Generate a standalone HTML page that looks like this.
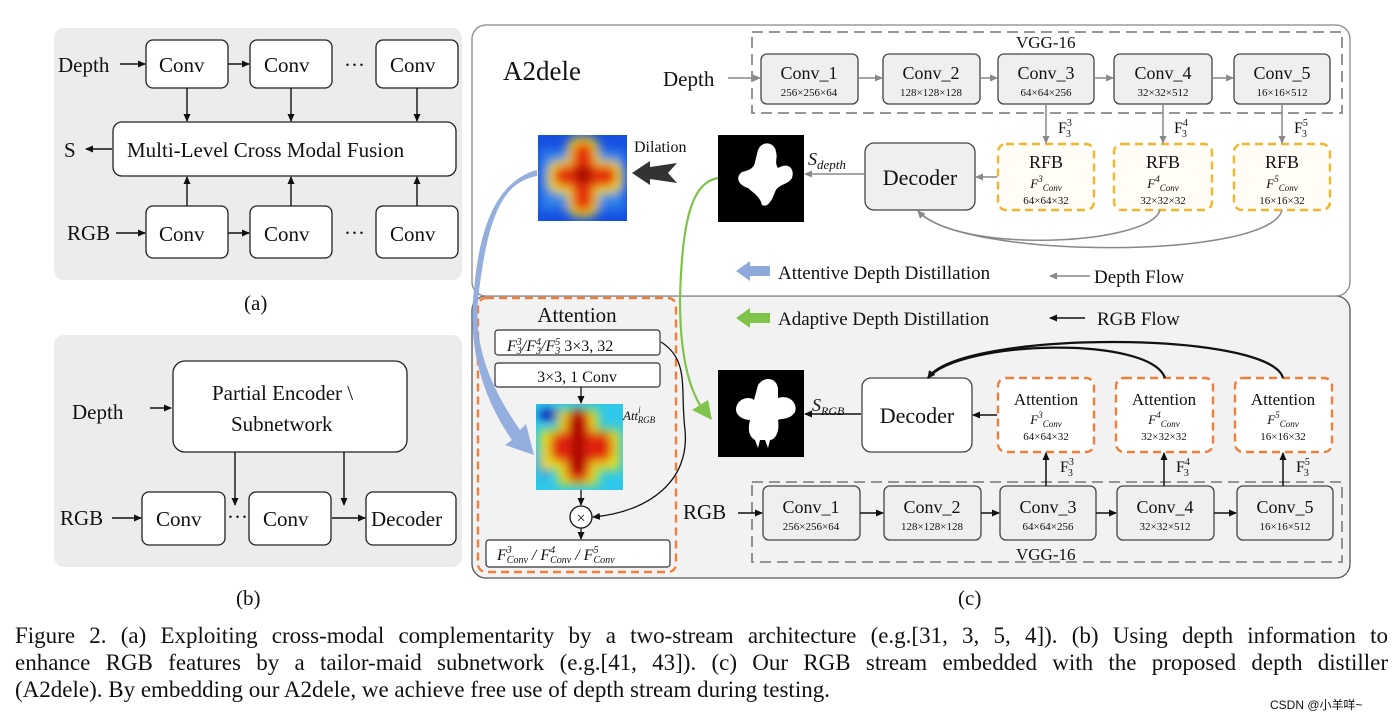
<!DOCTYPE html>
<html><head><meta charset="utf-8"><style>
body{margin:0;width:1400px;height:720px;background:#fff;overflow:hidden;font-family:"Liberation Serif",serif}
.cap{position:absolute;left:15px;width:1373px;font-size:23px;line-height:27px;color:#111;white-space:nowrap}
.j{text-align:justify;text-align-last:justify;white-space:normal}
svg text{font-family:"Liberation Serif",serif;fill:#111}
</style></head><body>
<svg width="1400" height="720" style="position:absolute;left:0;top:0">
<defs>
<marker id="ak" markerWidth="8" markerHeight="8" refX="7" refY="4" orient="auto" markerUnits="userSpaceOnUse"><path d="M0,0.5 L8,4 L0,7.5z" fill="#111"/></marker>
<marker id="ag" markerWidth="8" markerHeight="8" refX="7" refY="4" orient="auto" markerUnits="userSpaceOnUse"><path d="M0,0.5 L8,4 L0,7.5z" fill="#888"/></marker>
<filter id="bl"><feGaussianBlur stdDeviation="5"/></filter>
<clipPath id="c1"><rect x="538" y="135" width="89" height="86"/></clipPath>
<clipPath id="c2"><rect x="536" y="404" width="87" height="86"/></clipPath>
</defs>
<rect x="54" y="28" width="408" height="252" rx="10" fill="#ececec"/>
<g stroke="#222" stroke-width="1.3" fill="#fff">
<rect x="146" y="40" width="82" height="48" rx="7"/><rect x="250" y="40" width="82" height="48" rx="7"/><rect x="376" y="40" width="82" height="48" rx="7"/>
<rect x="113" y="122" width="343" height="54" rx="9"/>
<rect x="146" y="206" width="82" height="52" rx="7"/><rect x="250" y="206" width="82" height="52" rx="7"/><rect x="376" y="206" width="82" height="52" rx="7"/>
</g>
<g font-size="21">
<text x="58" y="72">Depth</text><text x="159" y="72">Conv</text><text x="264" y="72">Conv</text><text x="390" y="72">Conv</text>
<text x="344" y="72">···</text><text x="344" y="240">···</text>
<text x="127" y="157">Multi-Level Cross Modal Fusion</text><text x="64" y="157">S</text>
<text x="67" y="240">RGB</text><text x="159" y="241">Conv</text><text x="264" y="241">Conv</text><text x="390" y="241">Conv</text>
<text x="244" y="310">(a)</text>
</g>
<g stroke="#111" stroke-width="1.4" fill="none" marker-end="url(#ak)">
<line x1="120" y1="64" x2="145" y2="64"/><line x1="228" y1="64" x2="249" y2="64"/>
<line x1="187" y1="88" x2="187" y2="121"/><line x1="291" y1="88" x2="291" y2="121"/><line x1="417" y1="88" x2="417" y2="121"/>
<line x1="112" y1="149" x2="86" y2="149"/>
<line x1="187" y1="206" x2="187" y2="177"/><line x1="291" y1="206" x2="291" y2="177"/><line x1="417" y1="206" x2="417" y2="177"/>
<line x1="116" y1="233" x2="145" y2="233"/><line x1="228" y1="233" x2="249" y2="233"/>
</g>
<rect x="54" y="335" width="408" height="232" rx="10" fill="#ececec"/>
<g stroke="#222" stroke-width="1.3" fill="#fff">
<rect x="173" y="361" width="234" height="91" rx="12"/>
<rect x="142" y="492" width="83" height="53" rx="7"/><rect x="249" y="492" width="82" height="53" rx="7"/><rect x="366" y="492" width="90" height="53" rx="7"/>
</g>
<g font-size="21">
<text x="72" y="419">Depth</text><text x="212" y="400">Partial Encoder \</text><text x="231" y="431">Subnetwork</text>
<text x="60" y="525">RGB</text><text x="156" y="526">Conv</text><text x="263" y="526">Conv</text><text x="371" y="526">Decoder</text>
<text x="227" y="524">···</text><text x="236" y="605">(b)</text>
</g>
<g stroke="#111" stroke-width="1.4" fill="none" marker-end="url(#ak)">
<line x1="150" y1="408" x2="171" y2="408"/><line x1="112" y1="518" x2="141" y2="518"/>
<line x1="332" y1="518" x2="365" y2="518"/>
<line x1="235" y1="452" x2="235" y2="505"/><line x1="344" y1="452" x2="344" y2="505"/>
</g>
<rect x="472" y="296" width="878" height="282" rx="14" fill="#f2f2f2" stroke="#555" stroke-width="1.3"/>
<rect x="472" y="25" width="878" height="271" rx="14" fill="#fff" stroke="#888" stroke-width="1.3"/>
<rect x="752" y="32" width="590" height="81" fill="none" stroke="#888" stroke-width="1.8" stroke-dasharray="11,6"/>
<rect x="752" y="482" width="590" height="80" fill="none" stroke="#888" stroke-width="1.8" stroke-dasharray="11,6"/>
<text x="503" y="80" font-size="27">A2dele</text>
<text x="1016" y="48" font-size="17">VGG-16</text><text x="1016" y="560" font-size="17">VGG-16</text>
<g stroke="#444" stroke-width="1.3" fill="#efefef">
<rect x="761" y="54" width="97" height="50" rx="6"/><rect x="883" y="54" width="97" height="50" rx="6"/><rect x="998" y="54" width="96" height="50" rx="6"/><rect x="1114" y="54" width="98" height="50" rx="6"/><rect x="1234" y="54" width="96" height="50" rx="6"/>
<rect x="865" y="143" width="110" height="67" rx="9"/>
<rect x="763" y="486" width="97" height="54" rx="6"/><rect x="884" y="486" width="97" height="54" rx="6"/><rect x="1000" y="486" width="96" height="54" rx="6"/><rect x="1117" y="486" width="97" height="54" rx="6"/><rect x="1237" y="486" width="96" height="54" rx="6"/>
</g>
<rect x="862" y="378" width="110" height="74" rx="9" fill="#fff" stroke="#444" stroke-width="1.3"/>
<g fill="#fffdf5" stroke="#f3b52a" stroke-width="2.4" stroke-dasharray="8,5">
<rect x="998" y="144" width="96" height="66" rx="8"/><rect x="1114" y="144" width="98" height="66" rx="8"/><rect x="1234" y="144" width="96" height="66" rx="8"/>
</g>
<g fill="#fff" stroke="#ef7f3a" stroke-width="2.4" stroke-dasharray="8,5">
<rect x="998" y="378" width="96" height="74" rx="8"/><rect x="1116" y="378" width="97" height="74" rx="8"/><rect x="1235" y="378" width="97" height="74" rx="8"/>
<rect x="478" y="298" width="198" height="274" rx="8" fill="none"/>
</g>
<g font-size="18" text-anchor="middle">
<text x="809" y="79">Conv_1</text><text x="931" y="79">Conv_2</text><text x="1046" y="79">Conv_3</text><text x="1163" y="79">Conv_4</text><text x="1282" y="79">Conv_5</text>
<text x="811" y="513">Conv_1</text><text x="932" y="513">Conv_2</text><text x="1048" y="513">Conv_3</text><text x="1165" y="513">Conv_4</text><text x="1285" y="513">Conv_5</text>
<text x="1046" y="168">RFB</text><text x="1163" y="168">RFB</text><text x="1282" y="168">RFB</text>
<text x="1046" y="405" font-size="17">Attention</text><text x="1164" y="405" font-size="17">Attention</text><text x="1283" y="405" font-size="17">Attention</text>
</g>
<g font-size="11" text-anchor="middle">
<text x="809" y="96">256×256×64</text><text x="931" y="96">128×128×128</text><text x="1046" y="96">64×64×256</text><text x="1163" y="96">32×32×512</text><text x="1282" y="96">16×16×512</text>
<text x="811" y="530">256×256×64</text><text x="932" y="530">128×128×128</text><text x="1048" y="530">64×64×256</text><text x="1165" y="530">32×32×512</text><text x="1285" y="530">16×16×512</text>
<text x="1046" y="204">64×64×32</text><text x="1163" y="204">32×32×32</text><text x="1282" y="204">16×16×32</text>
<text x="1046" y="440">64×64×32</text><text x="1164" y="440">32×32×32</text><text x="1283" y="440">16×16×32</text>
</g>
<g font-size="13" font-style="italic" text-anchor="middle">
<text x="1046" y="188">F<tspan font-size="9" dy="-6">3</tspan><tspan font-size="9" dy="9">Conv</tspan></text>
<text x="1163" y="188">F<tspan font-size="9" dy="-6">4</tspan><tspan font-size="9" dy="9">Conv</tspan></text>
<text x="1282" y="188">F<tspan font-size="9" dy="-6">5</tspan><tspan font-size="9" dy="9">Conv</tspan></text>
<text x="1046" y="424">F<tspan font-size="9" dy="-6">3</tspan><tspan font-size="9" dy="9">Conv</tspan></text>
<text x="1164" y="424">F<tspan font-size="9" dy="-6">4</tspan><tspan font-size="9" dy="9">Conv</tspan></text>
<text x="1283" y="424">F<tspan font-size="9" dy="-6">5</tspan><tspan font-size="9" dy="9">Conv</tspan></text>
</g>
<g font-size="16">
<text x="1058" y="133">F<tspan font-size="10" dy="-7">3</tspan><tspan font-size="10" dx="-6" dy="11">3</tspan></text>
<text x="1174" y="133">F<tspan font-size="10" dy="-7">4</tspan><tspan font-size="10" dx="-6" dy="11">3</tspan></text>
<text x="1294" y="133">F<tspan font-size="10" dy="-7">5</tspan><tspan font-size="10" dx="-6" dy="11">3</tspan></text>
<text x="1060" y="472">F<tspan font-size="10" dy="-7">3</tspan><tspan font-size="10" dx="-6" dy="11">3</tspan></text>
<text x="1176" y="472">F<tspan font-size="10" dy="-7">4</tspan><tspan font-size="10" dx="-6" dy="11">3</tspan></text>
<text x="1296" y="472">F<tspan font-size="10" dy="-7">5</tspan><tspan font-size="10" dx="-6" dy="11">3</tspan></text>
</g>
<text x="920" y="185" font-size="22" text-anchor="middle">Decoder</text>
<text x="917" y="423" font-size="22" text-anchor="middle">Decoder</text>
<text x="663" y="86" font-size="21">Depth</text><text x="683" y="519" font-size="21">RGB</text>
<text x="808" y="165" font-size="18" font-style="italic">S<tspan font-size="13" dy="4">depth</tspan></text>
<text x="812" y="411" font-size="18" font-style="italic">S<tspan font-size="12" dy="4">RGB</tspan></text>
<text x="634" y="152" font-size="16">Dilation</text>
<g stroke="#888" stroke-width="1.5" fill="none" marker-end="url(#ag)">
<line x1="728" y1="78" x2="760" y2="78"/><line x1="858" y1="78" x2="882" y2="78"/><line x1="980" y1="78" x2="997" y2="78"/><line x1="1094" y1="78" x2="1113" y2="78"/><line x1="1212" y1="78" x2="1233" y2="78"/>
<line x1="1046" y1="104" x2="1046" y2="143"/><line x1="1163" y1="104" x2="1163" y2="143"/><line x1="1282" y1="104" x2="1282" y2="143"/>
<line x1="997" y1="177" x2="976" y2="177"/><line x1="864" y1="174" x2="805" y2="174"/>
<path d="M1160,210 C1150,245 960,255 918,211"/><path d="M1282,210 C1270,260 960,260 918,211"/>
<line x1="1090" y1="276" x2="1050" y2="276"/>
</g>
<g stroke="#111" stroke-width="1.5" fill="none" marker-end="url(#ak)">
<line x1="738" y1="513" x2="762" y2="513"/><line x1="860" y1="513" x2="883" y2="513"/><line x1="981" y1="513" x2="999" y2="513"/><line x1="1096" y1="513" x2="1116" y2="513"/><line x1="1214" y1="513" x2="1236" y2="513"/>
<line x1="1046" y1="486" x2="1046" y2="453"/><line x1="1164" y1="486" x2="1164" y2="453"/><line x1="1283" y1="486" x2="1283" y2="453"/>
<line x1="997" y1="415" x2="973" y2="415"/><line x1="861" y1="414" x2="805" y2="414"/>
<path d="M1165,378 C1150,335 960,340 928,378" stroke-width="2.2"/><path d="M1283,378 C1270,330 960,330 928,378" stroke-width="2.2"/>
<line x1="1085" y1="318" x2="1050" y2="318"/>
</g>
<path d="M736,271 L750,261 L750,266 L770,266 L770,276 L750,276 L750,281z" fill="#8eaadb"/>
<path d="M736,318 L750,308 L750,313 L770,313 L770,323 L750,323 L750,328z" fill="#7fc34a"/>
<text x="778" y="279" font-size="19">Attentive Depth Distillation</text>
<text x="778" y="325" font-size="19">Adaptive Depth Distillation</text>
<text x="1094" y="283" font-size="19">Depth Flow</text><text x="1097" y="325" font-size="19">RGB Flow</text>
<path d="M632,173 L650,161 L650,167 L677,163 L668,173 L677,183 L650,179 L650,185z" fill="#333"/>
<g clip-path="url(#c1)"><rect x="538" y="135" width="89" height="86" fill="#1550e0"/>
<g filter="url(#bl)"><rect x="540" y="150" width="85" height="60" fill="#3aa0f0" opacity=".6"/><rect x="567" y="137" width="32" height="80" rx="12" fill="#f0e020"/><rect x="547" y="160" width="76" height="34" rx="12" fill="#f0e020"/>
<rect x="572" y="142" width="22" height="70" rx="10" fill="#e43010"/><rect x="553" y="165" width="64" height="22" rx="10" fill="#e43010"/><circle cx="583" cy="175" r="9" fill="#a00000"/></g></g>
<g clip-path="url(#c2)"><rect x="536" y="404" width="87" height="86" fill="#30c8e8"/>
<g filter="url(#bl)"><ellipse cx="550" cy="415" rx="12" ry="6" fill="#0018b0"/><ellipse cx="545" cy="460" rx="8" ry="15" fill="#0030d0"/><rect x="558" y="410" width="40" height="75" fill="#e8e020"/><rect x="540" y="430" width="80" height="40" fill="#e8e020"/>
<rect x="566" y="410" width="24" height="72" rx="10" fill="#e02010"/><rect x="550" y="432" width="62" height="30" rx="10" fill="#e02010"/><rect x="572" y="415" width="12" height="58" fill="#a00000"/></g></g>
<rect x="718" y="135" width="86" height="87" fill="#000"/>
<path d="M758,150 C762,140 775,142 776,152 C778,158 774,162 778,168 C788,162 795,168 792,178 C788,185 778,184 775,192 C772,200 768,208 762,205 C760,196 752,192 748,188 C740,186 734,178 742,172 C750,170 754,168 755,162z" fill="#fff"/>
<rect x="718" y="370" width="86" height="87" fill="#000"/>
<path d="M758,385 C765,375 778,378 778,390 L778,398 C790,394 798,404 795,412 C790,420 782,418 778,420 C780,432 775,440 770,440 L768,448 L765,440 L760,440 L758,448 L755,440 C748,436 748,428 750,420 C742,420 733,414 737,405 C740,398 750,396 754,400z" fill="#fff"/>
<path d="M537,176 C505,182 488,210 478,300 C476,330 478,370 520,430 L526,424 L534,455 L505,445 L512,440 C470,380 470,320 474,290 C480,220 500,180 537,170z" fill="#8eaadb" opacity=".95"/>
<path d="M718,178 C695,182 682,210 680,300 C680,340 685,380 700,405" stroke="#7fc34a" stroke-width="2.2" fill="none"/>
<path d="M692,410 L708,400 L712,420z" fill="#7fc34a"/>
<text x="577" y="322" font-size="21" text-anchor="middle">Attention</text>
<rect x="495" y="330" width="165" height="25" rx="3" fill="#fff" stroke="#333" stroke-width="1.2"/>
<rect x="495" y="363" width="165" height="24" rx="3" fill="#fff" stroke="#333" stroke-width="1.2"/>
<rect x="486" y="540" width="184" height="27" rx="3" fill="#fff" stroke="#333" stroke-width="1.2"/>
<text x="507" y="351" font-size="16" font-style="italic">F<tspan font-size="10" dy="-6">3</tspan><tspan font-size="10" dx="-5" dy="9">3</tspan><tspan dy="-3">/F</tspan><tspan font-size="10" dy="-6">4</tspan><tspan font-size="10" dx="-5" dy="9">3</tspan><tspan dy="-3">/F</tspan><tspan font-size="10" dy="-6">5</tspan><tspan font-size="10" dx="-5" dy="9">3</tspan><tspan dy="-3" font-style="normal"> 3×3, 32</tspan></text>
<text x="577" y="382" font-size="16" text-anchor="middle">3×3, 1 Conv</text>
<text x="497" y="560" font-size="16" font-style="italic">F<tspan font-size="10" dy="-7">3</tspan><tspan font-size="10" dx="-5" dy="10">Conv</tspan><tspan dy="-3"> / F</tspan><tspan font-size="10" dy="-7">4</tspan><tspan font-size="10" dx="-5" dy="10">Conv</tspan><tspan dy="-3"> / F</tspan><tspan font-size="10" dy="-7">5</tspan><tspan font-size="10" dx="-5" dy="10">Conv</tspan></text>
<text x="623" y="420" font-size="13" font-style="italic">Att<tspan font-size="9" dy="-7">i</tspan><tspan font-size="9" dx="-3" dy="10">RGB</tspan></text>
<circle cx="581" cy="517" r="11" fill="#fff" stroke="#111" stroke-width="1.3"/>
<text x="581" y="523" font-size="16" text-anchor="middle">×</text>
<g stroke="#111" stroke-width="1.3" fill="none" marker-end="url(#ak)">
<line x1="581" y1="387" x2="581" y2="403"/><line x1="581" y1="490" x2="581" y2="505"/><line x1="581" y1="528" x2="581" y2="539"/>
<path d="M661,342 C690,360 680,390 685,430 C690,480 650,512 593,517"/>
</g>
<text x="958" y="605" font-size="21">(c)</text>
<text x="1270" y="709" font-size="12" fill="#555" style="font-family:'Liberation Sans','Noto Sans CJK SC',sans-serif">CSDN @小羊咩~</text>
</svg>
<div class="cap j" style="top:622px">Figure 2. (a) Exploiting cross-modal complementarity by a two-stream architecture (e.g.[31, 3, 5, 4]). (b) Using depth information to</div>
<div class="cap j" style="top:649px">enhance RGB features by a tailor-maid subnetwork (e.g.[41, 43]). (c) Our RGB stream embedded with the proposed depth distiller</div>
<div class="cap" style="top:676px">(A2dele). By embedding our A2dele, we achieve free use of depth stream during testing.</div>
</body></html>
